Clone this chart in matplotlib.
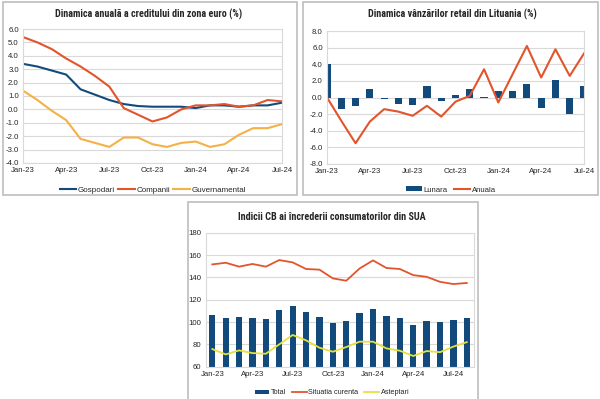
import matplotlib.pyplot as plt
from matplotlib import font_manager as fm
from matplotlib.patches import Rectangle
from matplotlib.ticker import FormatStrFormatter

W, H = 600, 399

# --- data ---
quarter_labels = ['Jan-23', 'Apr-23', 'Jul-23', 'Oct-23', 'Jan-24', 'Apr-24', 'Jul-24']

# Dinamica anuala a creditului din zona euro (%), Jan-23 .. Jul-24
gospodari = [3.4, 3.2, 2.9, 2.6, 1.5, 1.1, 0.7, 0.4, 0.25, 0.2, 0.2, 0.2, 0.1,
             0.3, 0.3, 0.2, 0.3, 0.3, 0.5]
companii = [5.4, 5.0, 4.5, 3.8, 3.2, 2.5, 1.7, 0.1, -0.4, -0.9, -0.6, 0.0, 0.3,
            0.3, 0.4, 0.2, 0.3, 0.7, 0.6]
guvernamental = [1.4, 0.7, -0.1, -0.8, -2.2, -2.5, -2.8, -2.1, -2.1, -2.6, -2.8,
                 -2.5, -2.4, -2.8, -2.6, -1.9, -1.4, -1.4, -1.1]

# Dinamica vanzarilor retail din Lituania (%), Jan-23 .. Jul-24
lunara = [4.0, -1.4, -1.0, 1.0, -0.2, -0.8, -0.9, 1.4, -0.4, 0.3, 1.0, 0.1, 0.8,
          0.8, 1.6, -1.3, 2.1, -2.0, 1.4]
anuala = [0.0, -2.8, -5.5, -2.9, -1.4, -1.7, -2.2, -1.0, -2.3, -0.5, 0.2, 3.4,
          -0.6, 2.8, 6.2, 2.4, 5.8, 2.6, 5.3]

# Indicii CB ai increderii consumatorilor din SUA, Jan-23 .. Aug-24
total = [106.0, 103.5, 104.2, 103.5, 102.7, 110.4, 114.0, 109.3, 104.5, 99.4,
         101.2, 108.3, 111.3, 105.0, 103.3, 97.6, 101.3, 100.4, 101.9, 103.3]
situatia = [151.6, 153.1, 149.6, 152.0, 149.6, 155.5, 153.4, 147.5, 146.9, 139.1,
            137.0, 148.0, 155.2, 148.4, 147.5, 142.0, 140.5, 136.0, 134.0, 135.0]
asteptari = [75.8, 71.0, 74.6, 72.2, 71.6, 80.0, 88.4, 83.6, 77.0, 73.4, 77.6,
             82.4, 82.4, 76.4, 74.3, 69.6, 74.0, 73.0, 78.0, 82.0]

BLUE = '#134A7C'
RED = '#E2552C'
GOLD = '#F4B146'
YELLOW = '#E6E03C'
GRID = '#D9D9D9'
TXT = '#262626'

plt.rcParams['font.family'] = ['Liberation Sans', 'DejaVu Sans']


# pick the narrowest bold face that is installed for the titles
def condensed_font():
    prefs = ['opensans-condensedbold', 'opensans_condensed-bold', 'robotocondensed-bold',
             'liberationsansnarrow-bold', 'notosans-condensedbold', 'dejavusanscondensed-bold']
    files = [f.fname for f in fm.fontManager.ttflist]
    for p in prefs:
        for f in files:
            if p in f.lower().replace(' ', ''):
                return f
    for f in files:
        name = f.lower()
        if ('condensed' in name or 'narrow' in name) and 'bold' in name and 'italic' not in name:
            return f
    return None


cond_path = condensed_font()
if cond_path:
    TITLE_PROPS = dict(fontproperties=fm.FontProperties(fname=cond_path, size=7.3))
else:
    TITLE_PROPS = dict(fontsize=5.0, fontweight='bold', family=['DejaVu Sans'])

fig = plt.figure(figsize=(W / 100, H / 100), dpi=100)
fig.patch.set_facecolor('white')


def px_axes(left, top, right, bottom):
    return fig.add_axes([left / W, 1 - bottom / H, (right - left) / W, (bottom - top) / H])


def box(left, top, right, bottom):
    fig.add_artist(Rectangle((left / W, 1 - bottom / H), (right - left) / W, (bottom - top) / H,
                             transform=fig.transFigure, fill=False, ec='#BDBDBD', lw=1.2))


def style(ax):
    for s in ax.spines.values():
        s.set_color(GRID)
        s.set_linewidth(0.8)
    ax.grid(axis='y', color=GRID, lw=0.8)
    ax.set_axisbelow(True)
    ax.tick_params(length=0, labelsize=5.6, colors=TXT, pad=3)


def title(x, y, s):
    fig.text(x / W, 1 - y / H, s, ha='center', va='center', color=TXT, **TITLE_PROPS)


def legend(ax, handles, cx, cy, size, spacing):
    ax.legend(handles=handles, loc='center', bbox_to_anchor=(cx / W, 1 - cy / H),
              bbox_transform=fig.transFigure, ncol=len(handles), frameon=False,
              fontsize=size, handlelength=2.0, handleheight=0.6, columnspacing=spacing,
              handletextpad=0.25, labelcolor=TXT, borderpad=0, borderaxespad=0)


# --- chart 1 ---
box(3, 2, 297, 195)
title(149, 14, 'Dinamica anuală a creditului din zona euro (%)')
ax1 = px_axes(23, 29, 282, 163)
style(ax1)
x1 = range(len(gospodari))
h1 = ax1.plot(x1, gospodari, color=BLUE, lw=1.5, label='Gospodari')
h2 = ax1.plot(x1, companii, color=RED, lw=1.5, label='Companii')
h3 = ax1.plot(x1, guvernamental, color=GOLD, lw=1.5, label='Guvernamental')
ax1.set_xlim(0, len(gospodari) - 1)
ax1.set_ylim(-4, 6)
ax1.set_yticks(range(-4, 7))
ax1.yaxis.set_major_formatter(FormatStrFormatter('%.1f'))
ax1.set_xticks(range(0, len(gospodari), 3), quarter_labels)
legend(ax1, h1 + h2 + h3, 153, 190, 5.8, 0.4)

# --- chart 2 ---
box(303, 2, 598, 195)
title(452, 14, 'Dinamica vânzărilor retail din Lituania (%)')
ax2 = px_axes(327, 31, 584, 164)
style(ax2)
x2 = range(len(lunara))
b2 = ax2.bar(x2, lunara, width=0.5, color=BLUE, label='Lunara')
l2 = ax2.plot(x2, anuala, color=RED, lw=1.5, label='Anuala')
ax2.set_xlim(0, len(lunara) - 1)
ax2.set_ylim(-8, 8)
ax2.set_yticks(range(-8, 9, 2))
ax2.yaxis.set_major_formatter(FormatStrFormatter('%.1f'))
ax2.set_xticks(range(0, len(lunara), 3), quarter_labels)
legend(ax2, [b2] + l2, 451, 190, 5.6, 0.8)

# --- chart 3 ---
box(188, 202, 478, 402)
title(332, 217, 'Indicii CB ai încrederii consumatorilor din SUA')
ax3 = px_axes(205.6, 232.7, 473.5, 366.7)
style(ax3)
x3 = range(len(total))
b3 = ax3.bar(x3, total, width=0.47, color=BLUE, label='Total')
l3a = ax3.plot(x3, situatia, color=RED, lw=1.3, label='Situatia curenta')
l3b = ax3.plot(x3, asteptari, color=YELLOW, lw=1.3, label='Asteptari')
ax3.set_xlim(-0.5, len(total) - 0.5)
ax3.set_ylim(60, 180)
ax3.set_yticks(range(60, 181, 20))
ax3.set_xticks(range(0, len(total), 3), quarter_labels)
legend(ax3, [b3] + l3a + l3b, 332, 393, 5.2, 0.8)

fig.savefig('out.png', dpi=100, facecolor='white')
